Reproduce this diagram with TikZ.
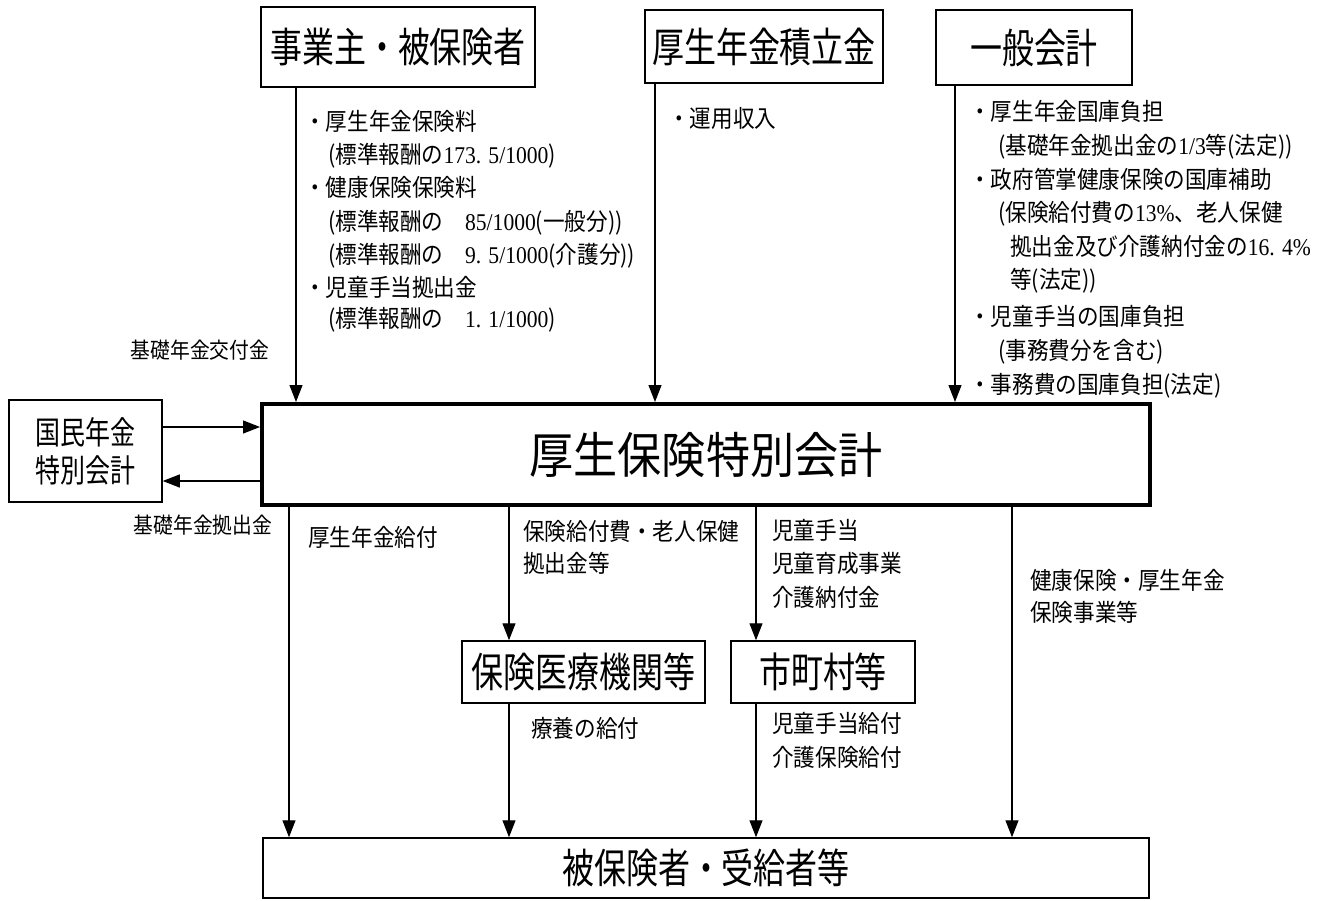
\documentclass[tikz,border=0pt]{standalone}
\usepackage{fontspec}
\usetikzlibrary{arrows.meta}
\newfontfamily\cjkT[FakeStretch=0.78]{Noto Sans CJK JP}
\newfontfamily\cjkS[FakeStretch=0.9]{Noto Sans CJK JP}
\newfontfamily\numf[FakeStretch=0.9]{Liberation Serif}
\newcommand\N[1]{{\numf #1}}
\tikzset{
  tbox/.style={draw, line width=1.5pt, inner sep=0pt, font=\cjkT\fontsize{41}{41}\selectfont},
  arr/.style={line width=1.2pt, -{Triangle[length=17pt,width=13pt]}},
  lbl/.style={inner sep=0pt, anchor=west, font=\cjkS\fontsize{24}{24}\selectfont, text height=21pt, text depth=3pt},
  slbl/.style={inner sep=0pt, font=\cjkS\fontsize{22}{22}\selectfont, text height=19pt, text depth=3pt}
}
\begin{document}
\begin{tikzpicture}[x=1pt,y=-1pt]
\useasboundingbox (0,0) rectangle (1325,901);
\fill[white] (0,0) rectangle (1325,901);

% boxes
\node[tbox, minimum width=274pt, minimum height=80pt] (jigyo) at (398,47) {事業主・被保険者};
\node[tbox, minimum width=238pt, minimum height=73pt] (tsumi) at (764,46.5) {厚生年金積立金};
\node[tbox, minimum width=196pt, minimum height=75pt] (ippan) at (1034,47.5) {一般会計};
\node[draw, line width=4pt, inner sep=0pt, minimum width=888pt, minimum height=101pt,
      font=\cjkS\fontsize{49}{49}\selectfont] (main) at (706,454.5) {厚生保険特別会計};
\node[tbox, minimum width=153pt, minimum height=102pt, align=center,
      font=\cjkT\fontsize{32}{38}\selectfont] (kokumin) at (85.5,451) {国民年金\\特別会計};
\node[tbox, minimum width=243pt, minimum height=62pt] (iryo) at (583.5,672) {保険医療機関等};
\node[tbox, minimum width=184pt, minimum height=62pt] (shi) at (823,672) {市町村等};
\node[tbox, minimum width=886pt, minimum height=60pt] (uke) at (706,868) {被保険者・受給者等};

% helper coordinates
\coordinate (xa) at (296,0);
\coordinate (xb) at (655,0);
\coordinate (xc) at (955,0);
\coordinate (xd) at (289,0);
\coordinate (xe) at (509,0);
\coordinate (xf) at (756,0);
\coordinate (xg) at (1012,0);
\coordinate (ya) at (0,427);
\coordinate (yb) at (0,481);

% connectors
\draw[arr] (jigyo.south -| xa) -- (main.north -| xa);
\draw[arr] (tsumi.south -| xb) -- (main.north -| xb);
\draw[arr] (ippan.south -| xc) -- (main.north -| xc);
\draw[arr] (kokumin.east |- ya) -- (main.west |- ya);
\draw[arr] (main.west |- yb) -- (kokumin.east |- yb);
\draw[arr] (main.south -| xd) -- (uke.north -| xd);
\draw[arr] (main.south -| xe) -- (iryo.north -| xe);
\draw[arr] (main.south -| xf) -- (shi.north -| xf);
\draw[arr] (main.south -| xg) -- (uke.north -| xg);
\draw[arr] (iryo.south -| xe) -- (uke.north -| xe);
\draw[arr] (shi.south -| xf) -- (uke.north -| xf);

% left block
\node[lbl] (l1) at (304,122) {・厚生年金保険料};
\node[lbl] (l2) at (328,155) {(標準報酬の\N{173. 5/1000})};
\node[lbl] (l3) at (304,188) {・健康保険保険料};
\node[lbl] (l4) at (328,222) {(標準報酬の　\N{85/1000}(一般分))};
\node[lbl] (l5) at (328,255) {(標準報酬の　\N{9. 5/1000}(介護分))};
\node[lbl] (l6) at (304,288) {・児童手当拠出金};
\node[lbl] (l7) at (328,318) {(標準報酬の　\N{1. 1/1000})};

% middle block
\node[lbl] (m1) at (668,119) {・運用収入};

% right block
\node[lbl] (r1) at (969,112) {・厚生年金国庫負担};
\node[lbl] (r2) at (998,146) {(基礎年金拠出金の\N{1/3}等(法定))};
\node[lbl] (r3) at (969,180) {・政府管掌健康保険の国庫補助};
\node[lbl] (r4) at (998,213) {(保険給付費の\N{13\%}、老人保健};
\node[lbl] (r5) at (1010,247) {拠出金及び介護納付金の\N{16. 4\%}};
\node[lbl] (r6) at (1010,280) {等(法定))};
\node[lbl] (r7) at (969,317) {・児童手当の国庫負担};
\node[lbl] (r8) at (998,350) {(事務費分を含む)};
\node[lbl] (r9) at (969,384) {・事務費の国庫負担(法定)};

% side labels
\node[slbl] (k1) at (200,350) {基礎年金交付金};
\node[slbl] (k2) at (203,525) {基礎年金拠出金};

% lower labels
\node[lbl] (b1) at (308,537) {厚生年金給付};
\node[lbl] (b2) at (523,531) {保険給付費・老人保健};
\node[lbl] (b3) at (523,563) {拠出金等};
\node[lbl] (b4) at (772,530) {児童手当};
\node[lbl] (b5) at (772,563) {児童育成事業};
\node[lbl] (b6) at (772,597) {介護納付金};
\node[lbl] (b7) at (1030,580) {健康保険・厚生年金};
\node[lbl] (b8) at (1030,612) {保険事業等};
\node[lbl] (b9) at (531,728) {療養の給付};
\node[lbl] (b10) at (772,723) {児童手当給付};
\node[lbl] (b11) at (772,757) {介護保険給付};
\end{tikzpicture}
\end{document}
